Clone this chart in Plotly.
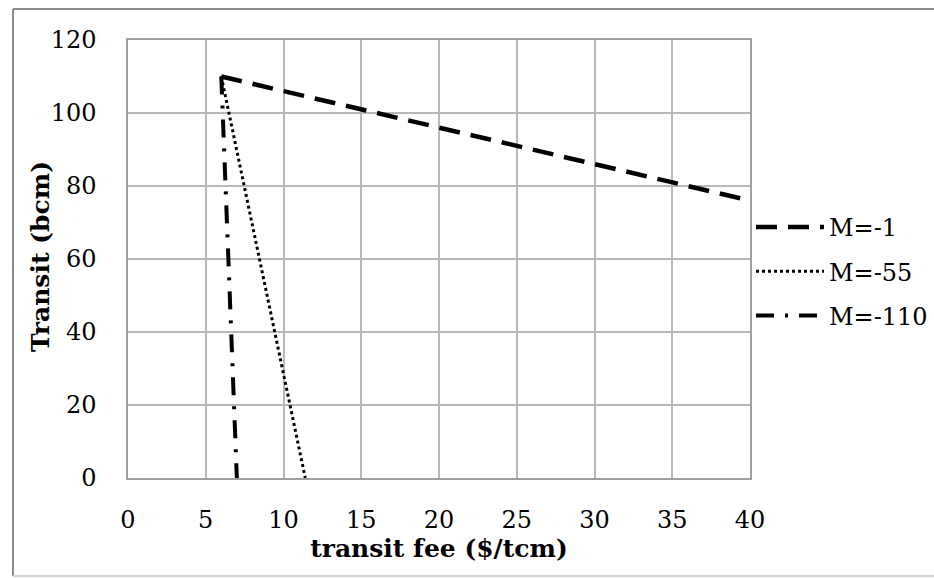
import plotly.graph_objects as go

# Data
fee_m1 = [6, 40]
transit_m1 = [110, 76]
fee_m55 = [6, 11.4]
transit_m55 = [110, 0]
fee_m110 = [6, 7]
transit_m110 = [110, 0]
series_names = ["M=-1", "M=-55", "M=-110"]
x_ticks = [0, 5, 10, 15, 20, 25, 30, 35, 40]
y_ticks = [0, 20, 40, 60, 80, 100, 120]

FONT = "DejaVu Serif"

fig = go.Figure()
fig.add_trace(go.Scatter(x=fee_m1, y=transit_m1, mode="lines", name=series_names[0],
                         legendgroup="a",
                         line=dict(color="black", width=4.5, dash="21px,11px")))
fig.add_trace(go.Scatter(x=fee_m55, y=transit_m55, mode="lines", name=series_names[1],
                         legendgroup="b",
                         line=dict(color="black", width=3, dash="dot")))
fig.add_trace(go.Scatter(x=fee_m110, y=transit_m110, mode="lines", name=series_names[2],
                         legendgroup="c",
                         line=dict(color="black", width=4, dash="18px,11px,3px,11px")))

W, H = 934, 578
PL, PR, PT, PB = 128, 750, 40, 478   # plot box in page pixels
L, T = PL, PT
R, B = W - PR, H - PB
pw, ph = PR - PL, PB - PT

def px(xs):
    return (xs - PL) / pw

def py(ys):
    return 1 - (ys - PT) / ph

frame_line = dict(color="#8c8c8c", width=2)
fig.update_layout(
    width=W, height=H,
    margin=dict(l=L, r=R, t=T, b=B, autoexpand=False),
    paper_bgcolor="white", plot_bgcolor="white",
    font=dict(family=FONT, color="black", size=24),
    showlegend=True,
    legend=dict(x=px(751), y=py(205), xanchor="left", yanchor="top",
                font=dict(family=FONT, size=24), tracegroupgap=10,
                bgcolor="rgba(0,0,0,0)", itemwidth=68),
    xaxis=dict(range=[0, 40], tickvals=x_ticks, showgrid=True, gridcolor="#b8b8b8", gridwidth=1.5,
               zeroline=False, showline=True, linecolor="#a0a0a0", linewidth=1.5, mirror=True,
               ticks="", ticklabelstandoff=19, automargin=False,
               tickfont=dict(family=FONT, size=24),
               title=dict(text="<b>transit fee ($/tcm)</b>", standoff=3,
                          font=dict(family=FONT, size=25))),
    yaxis=dict(range=[0, 120], tickvals=y_ticks, showgrid=True, gridcolor="#b8b8b8", gridwidth=1.5,
               zeroline=False, showline=True, linecolor="#a0a0a0", linewidth=1.5, mirror=True,
               ticks="", ticklabelstandoff=25, automargin=False,
               tickfont=dict(family=FONT, size=24)),
    annotations=[dict(text="<b>Transit (bcm)</b>", xref="paper", yref="paper",
                      x=px(40), y=py(257), xanchor="center", yanchor="middle",
                      textangle=-90, showarrow=False,
                      font=dict(family=FONT, size=25, color="black"))],
    shapes=[
        dict(type="line", xref="paper", yref="paper", x0=px(13), x1=px(1000), y0=py(9), y1=py(9),
             line=frame_line, layer="below"),
        dict(type="line", xref="paper", yref="paper", x0=px(13), x1=px(13), y0=py(9), y1=py(576),
             line=frame_line, layer="below"),
        dict(type="line", xref="paper", yref="paper", x0=px(13), x1=px(1000), y0=py(576), y1=py(576),
             line=dict(color="#d0d0d0", width=2), layer="below"),
    ],
)

fig.write_html("out.html", config={"displayModeBar": False},
               post_script="document.body.style.margin='0';document.body.style.overflow='hidden';")
